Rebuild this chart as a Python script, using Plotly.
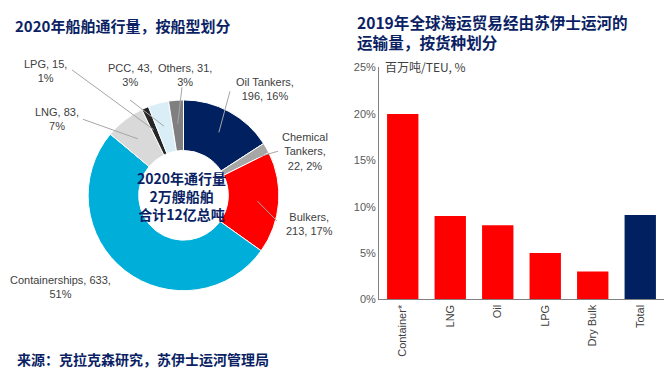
import math
import plotly.graph_objects as go

# ---------------- data ----------------
ship_types = ["Oil Tankers", "Chemical Tankers", "Bulkers", "Containerships",
              "LNG", "LPG", "PCC", "Others"]
ship_tonnage = [196, 22, 213, 633, 83, 15, 43, 31]          # million GT
ship_pct_labels = ["16%", "2%", "17%", "51%", "7%", "1%", "3%", "3%"]
ship_colors = ["#002060", "#A6A6A6", "#FF0000", "#00AEDA",
               "#D9D9D9", "#262626", "#DAEEF8", "#7F7F7F"]

cargo_types = ["Container*", "LNG", "Oil", "LPG", "Dry Bulk", "Total"]
cargo_share = [20, 9, 8, 5, 3, 9.1]                          # %
cargo_colors = ["#FF0000"] * 5 + ["#002060"]
y_ticks = [0, 5, 10, 15, 20, 25]
y_tick_labels = ["0%", "5%", "10%", "15%", "20%", "25%"]

W, H = 670, 380
NAVY = "#0B1F65"
TXT = "#404040"
FONT = "Liberation Sans, Arial, Noto Sans CJK SC, sans-serif"
CJK = "Noto Sans CJK SC, sans-serif"

# donut geometry (pixels)
cx, cy, R = 183.5, 195.5, 98.5
pie_dom_x = [(cx - R) / W, (cx + R) / W]
pie_dom_y = [1 - (cy + R) / H, 1 - (cy - R) / H]

fig = go.Figure()
fig.add_trace(go.Pie(
    labels=ship_types, values=ship_tonnage, sort=False, direction="clockwise",
    rotation=0, hole=0.47, textinfo="none", hoverinfo="label+value+percent",
    marker=dict(colors=ship_colors, line=dict(color="white", width=1)),
    domain=dict(x=pie_dom_x, y=pie_dom_y), showlegend=False,
))

fig.add_trace(go.Bar(
    x=cargo_types, y=cargo_share, marker=dict(color=cargo_colors, line=dict(width=0)),
    xaxis="x", yaxis="y", showlegend=False,
))

# label placement (pixel positions of text centres and leader-line ends)
label_pos = {
    "Oil Tankers": ((265, 86), (230, 88)),
    "Chemical Tankers": ((305, 150), (278, 150)),
    "Bulkers": ((309, 225), (277, 222)),
    "Containerships": ((60, 290), None),
    "LNG": ((57, 117), (83, 117)),
    "LPG": ((45, 67), (72, 66)),
    "PCC": ((130, 71), (130, 97)),
    "Others": ((185, 71), (182, 84)),
}
label_text = {
    "Oil Tankers": "Oil Tankers,<br>{v}, {p}",
    "Chemical Tankers": "Chemical<br>Tankers,<br>{v}, {p}",
    "Bulkers": "Bulkers,<br>{v}, {p}",
    "Containerships": "Containerships, {v},<br>{p}",
    "LNG": "LNG, {v},<br>{p}",
    "LPG": "LPG, {v},<br>{p}",
    "PCC": "PCC, {v},<br>{p}",
    "Others": "Others, {v},<br>{p}",
}

annotations = []
shapes = []
total = sum(ship_tonnage)
cum = 0
for name, v, p in zip(ship_types, ship_tonnage, ship_pct_labels):
    mid = (cum + v / 2) / total * 2 * math.pi
    cum += v
    (tx, ty), end = label_pos[name]
    annotations.append(dict(
        x=tx / W, y=1 - ty / H, xref="paper", yref="paper", showarrow=False,
        text=label_text[name].format(v=v, p=p), align="center",
        font=dict(family=FONT, size=11, color=TXT), xanchor="center", yanchor="middle",
    ))
    if end is not None:
        r = 74
        px = cx + r * math.sin(mid)
        py = cy - r * math.cos(mid)
        shapes.append(dict(type="line", xref="paper", yref="paper",
                           x0=px / W, y0=1 - py / H, x1=end[0] / W, y1=1 - end[1] / H,
                           line=dict(color="#A6A6A6", width=1)))

# centre text
annotations.append(dict(
    x=181 / W, y=1 - 196 / H, xref="paper", yref="paper", showarrow=False,
    xanchor="center", yanchor="middle",
    text="<b>2020年通行量<br>2万艘船舶<br>合计12亿总吨</b>", align="center",
    font=dict(family=CJK, size=14, color=NAVY),
))

# titles & source
annotations += [
    dict(x=13 / W, y=1 - 20 / H, xref="paper", yref="paper", showarrow=False,
         xanchor="left", yanchor="middle",
         text="<b>2020年船舶通行量，按船型划分</b>",
         font=dict(family=CJK, size=15, color=NAVY)),
    dict(x=355 / W, y=1 - 27 / H, xref="paper", yref="paper", showarrow=False,
         xanchor="left", yanchor="middle", align="left",
         text="<b>2019年全球海运贸易经由苏伊士运河的<br>运输量，按货种划分</b>",
         font=dict(family=CJK, size=15.6, color=NAVY)),
    dict(x=15 / W, y=1 - 365 / H, xref="paper", yref="paper", showarrow=False,
         xanchor="left", yanchor="middle",
         text="<b>来源：克拉克森研究，苏伊士运河管理局</b>",
         font=dict(family=CJK, size=14, color=NAVY)),
    dict(x=383 / W, y=1 - 62 / H, xref="paper", yref="paper", showarrow=False,
         xanchor="left", yanchor="middle",
         text="百万吨/TEU, %",
         font=dict(family=CJK, size=12, color=TXT)),
]

fig.update_layout(
    width=W, height=H, margin=dict(l=0, r=0, t=0, b=0),
    paper_bgcolor="white", plot_bgcolor="white",
    annotations=annotations, shapes=shapes, bargap=0.34,
    xaxis=dict(domain=[379 / W, 664 / W], showgrid=False, showline=True,
               linecolor="#808080", linewidth=1, tickangle=-90, ticks="",
               tickfont=dict(family=FONT, size=11, color=TXT), fixedrange=True),
    yaxis=dict(domain=[1 - 303 / H, 1 - 63.5 / H], range=[0, 25], tickmode="array",
               tickvals=y_ticks, ticktext=y_tick_labels,
               showgrid=False, showline=True, linecolor="#808080",
               linewidth=1, ticks="", zeroline=False,
               tickfont=dict(family=FONT, size=11, color="#595959")),
)

fig.write_html("out.html", config={"displayModeBar": False},
               post_script="document.body.style.margin='0';document.body.style.overflow='hidden';")
